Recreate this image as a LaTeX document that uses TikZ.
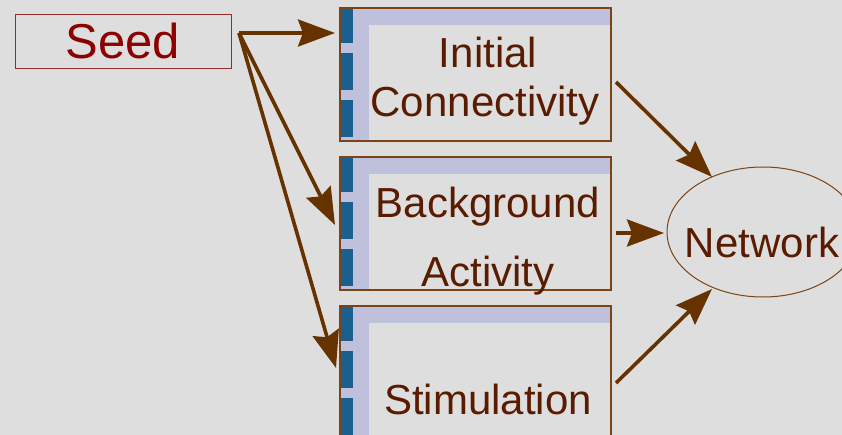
\documentclass[tikz,border=0pt]{standalone}
\usepackage{fontspec}
\setmainfont{Liberation Sans}
\usetikzlibrary{arrows.meta,shapes.geometric}
\definecolor{bg}{HTML}{DEDEDE}
\definecolor{lav}{HTML}{BFC1DC}
\definecolor{blu}{HTML}{1A5F8E}
\definecolor{boxbrown}{HTML}{7A4416}
\definecolor{arrbrown}{HTML}{663300}
\definecolor{txtbrown}{HTML}{5A1C00}
\definecolor{seedred}{HTML}{8B0000}
\definecolor{seedframe}{HTML}{8E2E2E}
\newcommand\modbox[2]{%
  \begin{scope}[shift={(0,#2)}]
    \fill[lav] (340,0) rectangle (611,17);
    \fill[lav] (340,0) rectangle (369,133);
    \fill[blu] (341,1) rectangle (353,35);
    \fill[blu] (341,45) rectangle (353,82);
    \fill[blu] (341,92) rectangle (353,129);
  \end{scope}
  \node[boxst] (#1) at (475.5,#2+66.5) {};
}
\begin{document}
\begin{tikzpicture}[x=1pt,y=-1pt,
  boxst/.style={rectangle,draw=boxbrown,line width=1.2pt,minimum width=271pt,minimum height=133pt,inner sep=0pt},
  lbl/.style={anchor=base,text=txtbrown,font=\fontsize{42}{42}\selectfont,inner sep=0pt},
  arr/.style={draw=arrbrown,line width=3.6pt,-{Stealth[length=37pt,width=27pt,inset=5pt]}},
  seedst/.style={rectangle,draw=seedframe,line width=1pt,minimum width=216pt,minimum height=54pt,inner sep=0pt},
  netst/.style={ellipse,draw=boxbrown,line width=1pt,minimum width=192pt,minimum height=130pt,inner sep=0pt}]
\fill[bg] (0,0) rectangle (842,435);
\clip (0,0) rectangle (842,435);
% Seed
\node[seedst] (seed) at (123,42) {};
\node[anchor=base,text=seedred,font=\fontsize{49}{49}\selectfont,inner sep=0pt] (seedt) at (123,59) {Seed};
% boxes
\modbox{ic}{8}
\modbox{ba}{157}
\modbox{st}{306}
\node[lbl] (ic1) at (488,68) {Initial};
\node[lbl] (ic2) at (485,117) {Connectivity};
\node[lbl] (ba1) at (488,218) {Background};
\node[lbl] (ba2) at (488,287) {Activity};
\node[lbl] (st1) at (488,414) {Stimulation};
% network
\node[netst] (net) at (763,232) {};
\node[lbl] (nett) at (762,258) {Network};
% connector points
\coordinate (s0) at (239,33);
\coordinate (t1) at (335,33);
\coordinate (t2) at (335,225);
\coordinate (t3) at (336,368);
\coordinate (r1) at (616,82);
\coordinate (r2) at (616,233);
\coordinate (r3) at (616,383);
\coordinate (n1) at (712,177);
\coordinate (n2) at (664,233);
\coordinate (n3) at (712,289);
\draw[arr] (s0) -- (t1);
\draw[arr] (s0) -- (t2);
\draw[arr] (s0) -- (t3);
\draw[arr] (r1) -- (n1);
\draw[arr] (r2) -- (n2);
\draw[arr] (r3) -- (n3);
\end{tikzpicture}
\end{document}
